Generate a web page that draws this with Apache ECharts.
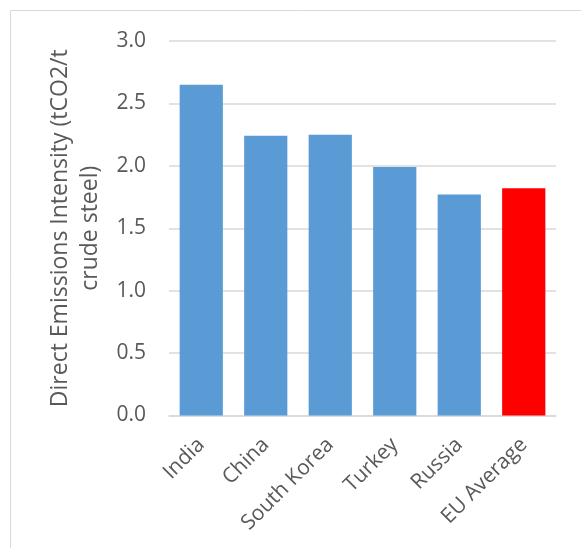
<!DOCTYPE html>
<html>
<head>
<meta charset="utf-8">
<script src="https://cdn.jsdelivr.net/npm/echarts@6/dist/echarts.min.js"></script>
<style>
  html, body { margin: 0; padding: 0; background: #ffffff; }
  #chart { width: 581px; height: 548px; }
</style>
</head>
<body>
<div id="chart"></div>
<script>
// Direct CO2 emissions intensity of crude steel production by country
const categories = ['India', 'China', 'South Korea', 'Turkey', 'Russia', 'EU Average'];
const intensity = [2.65, 2.24, 2.25, 1.99, 1.77, 1.82];
const highlight = ['EU Average'];
const yTicks = { min: 0, max: 3, interval: 0.5 };

const BLUE = '#5B9BD5';
const RED = '#FF0000';
const TEXT = '#595959';
const GRID = '#d9d9d9';
const FONT = '"Open Sans", "Noto Sans", sans-serif';

const chart = echarts.init(document.getElementById('chart'), null, { renderer: 'canvas' });

chart.setOption({
  backgroundColor: '#ffffff',
  animation: false,
  graphic: [{
    type: 'rect',
    shape: { x: 10.5, y: 10.5, width: 800, height: 800 },
    style: { fill: 'none', stroke: GRID, lineWidth: 1 },
    silent: true,
    z: -1
  }],
  grid: { left: 169, right: 25, top: 41, bottom: 132.5, containLabel: false },
  xAxis: {
    type: 'category',
    data: categories,
    axisLine: { show: true, lineStyle: { color: GRID, width: 1.5 } },
    axisTick: { show: false },
    axisLabel: {
      rotate: 45,
      margin: 26,
      interval: 0,
      color: TEXT,
      fontSize: 21,
      fontFamily: FONT
    }
  },
  yAxis: {
    type: 'value',
    min: yTicks.min,
    max: yTicks.max,
    interval: yTicks.interval,
    name: 'Direct Emissions Intensity (tCO2/t\ncrude steel)',
    nameLocation: 'middle',
    nameRotate: 90,
    nameGap: 62,
    nameTextStyle: {
      color: TEXT,
      fontSize: 23,
      fontFamily: FONT,
      lineHeight: 30,
      align: 'center'
    },
    axisLine: { show: false },
    axisTick: { show: false },
    splitLine: { show: true, lineStyle: { color: GRID, width: 1.5 } },
    axisLabel: {
      margin: 23,
      color: TEXT,
      fontSize: 21,
      fontFamily: FONT,
      formatter: v => v.toFixed(1)
    }
  },
  series: [{
    type: 'bar',
    barCategoryGap: '33%',
    data: intensity.map((v, i) => ({
      value: v,
      itemStyle: { color: highlight.includes(categories[i]) ? RED : BLUE }
    }))
  }]
});
</script>
</body>
</html>
